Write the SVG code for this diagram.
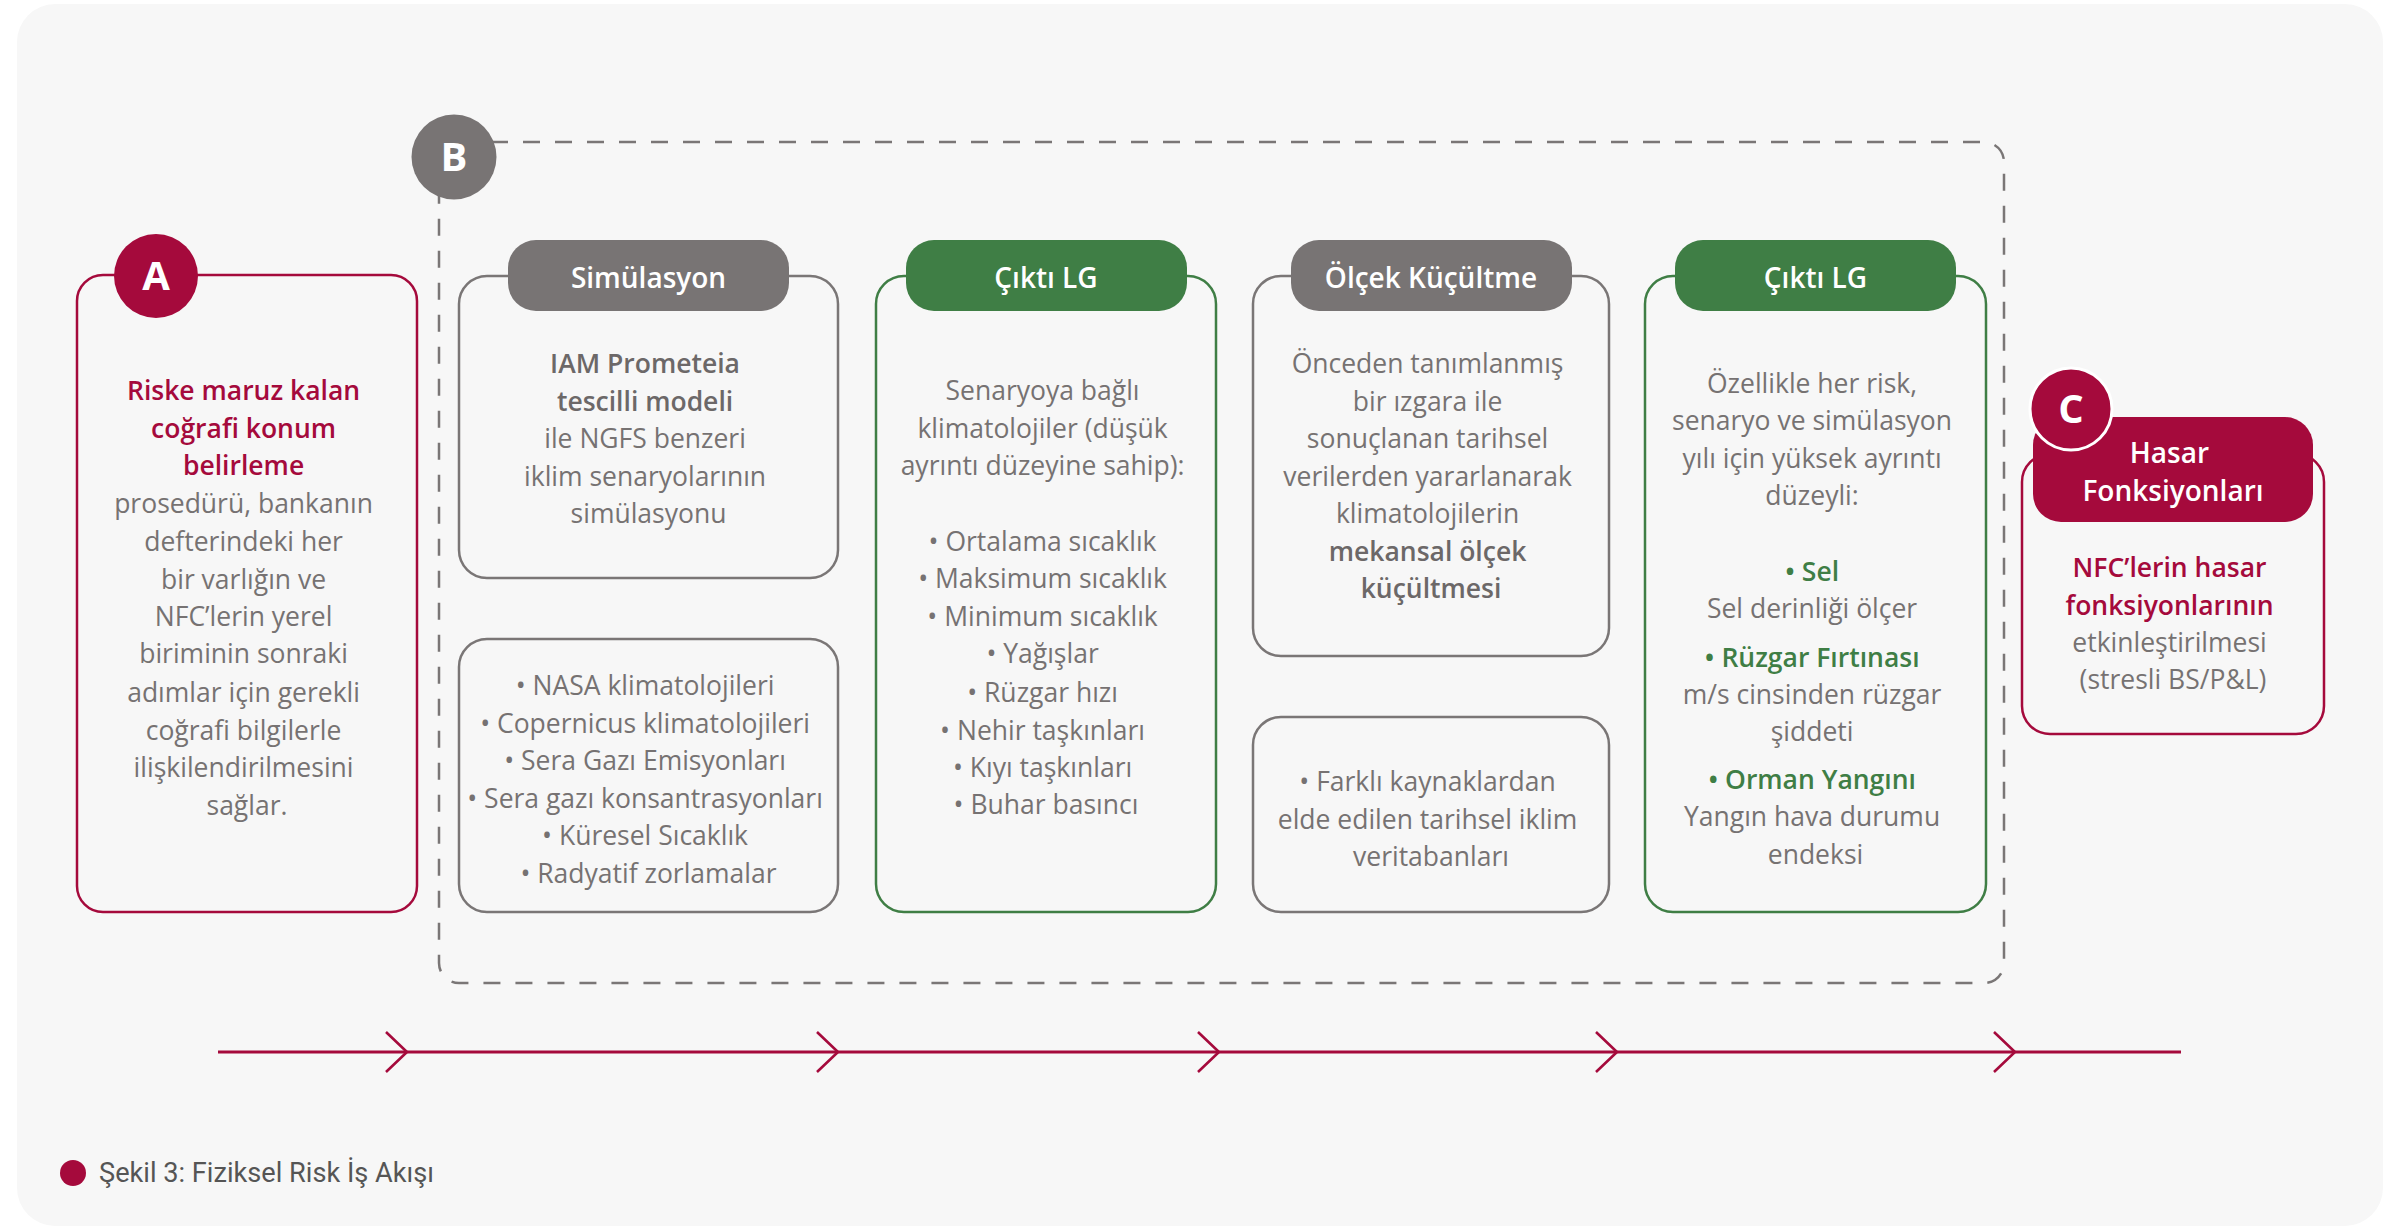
<svg xmlns="http://www.w3.org/2000/svg" width="2399" height="1228" viewBox="0 0 2399 1228">
<defs>
<style>
text{font-family:"Open Sans","Noto Sans",sans-serif;text-anchor:middle}
.body{font-size:26.5px;fill:#767272}
.b{font-weight:600;fill:#6c6868}
.red{font-weight:600;fill:#a50a3c}
.grn{font-weight:600;fill:#3f7e45}
.hdr{font-size:28px;font-weight:600;fill:#ffffff}
.letter{font-size:40px;font-weight:700;fill:#ffffff}
.gbox{fill:#f7f7f7;stroke:#7a7676;stroke-width:2.5}
.gnbox{fill:#f7f7f7;stroke:#3f7e45;stroke-width:2.5}
.rbox{fill:#f7f7f7;stroke:#a50a3c;stroke-width:2.5}
.gpill{fill:#787474}
.gnpill{fill:#3f7e45}
.rpill{fill:#a50a3c}
.flow{stroke:#a50a3c;stroke-width:3;fill:none}
</style>
<marker id="chev" markerUnits="userSpaceOnUse" markerWidth="26" markerHeight="46" refX="22" refY="22" orient="auto" viewBox="0 0 26 46">
<path d="M1,2 L22,22 L1,42" fill="none" stroke="#a50a3c" stroke-width="2.6"/>
</marker>
</defs>
<rect x="0" y="0" width="2399" height="1228" fill="#ffffff"/>
<rect id="panel" x="17" y="4" width="2366" height="1222" rx="38" fill="#f7f7f7"/>

<g id="groupB">
<rect x="439" y="142" width="1565" height="841" rx="20" fill="none" stroke="#7a7676" stroke-width="2.5" stroke-dasharray="17 15"/>
<circle cx="454" cy="157" r="42.5" fill="#787474"/>
<text class="letter" x="454" y="171">B</text>
</g>

<g id="nodeA">
<rect class="rbox" x="77" y="275" width="340" height="637" rx="26"/>
<circle cx="156" cy="276" r="42" fill="#a50a3c"/>
<text class="letter" x="156" y="290">A</text>
<text class="body">
<tspan class="red" x="247" y="400">Riske maruz kalan</tspan>
<tspan class="red" x="247" y="438">coğrafi konum</tspan>
<tspan class="red" x="247" y="475">belirleme</tspan>
<tspan x="247" y="513">prosedürü, bankanın</tspan>
<tspan x="247" y="551">defterindeki her</tspan>
<tspan x="247" y="589">bir varlığın ve</tspan>
<tspan x="247" y="626">NFC’lerin yerel</tspan>
<tspan x="247" y="663">biriminin sonraki</tspan>
<tspan x="247" y="702">adımlar için gerekli</tspan>
<tspan x="247" y="740">coğrafi bilgilerle</tspan>
<tspan x="247" y="777">ilişkilendirilmesini</tspan>
<tspan x="247" y="815">sağlar.</tspan>
</text>
</g>

<g id="nodeSimulasyon">
<rect class="gbox" x="459" y="276" width="379" height="302" rx="28"/>
<rect class="gpill" x="508" y="240" width="281" height="71" rx="28"/>
<text class="hdr" x="648.5" y="288">Simülasyon</text>
<text class="body">
<tspan class="b" x="648.5" y="373">IAM Prometeia</tspan>
<tspan class="b" x="648.5" y="411">tescilli modeli</tspan>
<tspan x="648.5" y="448">ile NGFS benzeri</tspan>
<tspan x="648.5" y="486">iklim senaryolarının</tspan>
<tspan x="648.5" y="523">simülasyonu</tspan>
</text>
</g>

<g id="nodeSimKaynak">
<rect class="gbox" x="459" y="639" width="379" height="273" rx="28"/>
<text class="body">
<tspan x="648.5" y="695">• NASA klimatolojileri</tspan>
<tspan x="648.5" y="733">• Copernicus klimatolojileri</tspan>
<tspan x="648.5" y="770">• Sera Gazı Emisyonları</tspan>
<tspan x="648.5" y="808">• Sera gazı konsantrasyonları</tspan>
<tspan x="648.5" y="845">• Küresel Sıcaklık</tspan>
<tspan x="648.5" y="883">• Radyatif zorlamalar</tspan>
</text>
</g>

<g id="nodeCikti1">
<rect class="gnbox" x="876" y="276" width="340" height="636" rx="28"/>
<rect class="gnpill" x="906" y="240" width="281" height="71" rx="28"/>
<text class="hdr" x="1046" y="288">Çıktı LG</text>
<text class="body">
<tspan x="1046" y="400">Senaryoya bağlı</tspan>
<tspan x="1046" y="438">klimatolojiler (düşük</tspan>
<tspan x="1046" y="475">ayrıntı düzeyine sahip):</tspan>
<tspan x="1046" y="551">• Ortalama sıcaklık</tspan>
<tspan x="1046" y="588">• Maksimum sıcaklık</tspan>
<tspan x="1046" y="626">• Minimum sıcaklık</tspan>
<tspan x="1046" y="663">• Yağışlar</tspan>
<tspan x="1046" y="702">• Rüzgar hızı</tspan>
<tspan x="1046" y="740">• Nehir taşkınları</tspan>
<tspan x="1046" y="777">• Kıyı taşkınları</tspan>
<tspan x="1046" y="814">• Buhar basıncı</tspan>
</text>
</g>

<g id="nodeOlcek">
<rect class="gbox" x="1253" y="276" width="356" height="380" rx="28"/>
<rect class="gpill" x="1291" y="240" width="281" height="71" rx="28"/>
<text class="hdr" x="1431" y="288">Ölçek Küçültme</text>
<text class="body">
<tspan x="1431" y="373">Önceden tanımlanmış</tspan>
<tspan x="1431" y="411">bir ızgara ile</tspan>
<tspan x="1431" y="448">sonuçlanan tarihsel</tspan>
<tspan x="1431" y="486">verilerden yararlanarak</tspan>
<tspan x="1431" y="523">klimatolojilerin</tspan>
<tspan class="b" x="1431" y="561">mekansal ölçek</tspan>
<tspan class="b" x="1431" y="598">küçültmesi</tspan>
</text>
</g>

<g id="nodeOlcekKaynak">
<rect class="gbox" x="1253" y="717" width="356" height="195" rx="28"/>
<text class="body">
<tspan x="1431" y="791">• Farklı kaynaklardan</tspan>
<tspan x="1431" y="829">elde edilen tarihsel iklim</tspan>
<tspan x="1431" y="866">veritabanları</tspan>
</text>
</g>

<g id="nodeCikti2">
<rect class="gnbox" x="1645" y="276" width="341" height="636" rx="28"/>
<rect class="gnpill" x="1675" y="240" width="281" height="71" rx="28"/>
<text class="hdr" x="1815.5" y="288">Çıktı LG</text>
<text class="body">
<tspan x="1815.5" y="393">Özellikle her risk,</tspan>
<tspan x="1815.5" y="430">senaryo ve simülasyon</tspan>
<tspan x="1815.5" y="468">yılı için yüksek ayrıntı</tspan>
<tspan x="1815.5" y="505">düzeyli:</tspan>
<tspan class="grn" x="1815.5" y="581">• Sel</tspan>
<tspan x="1815.5" y="618">Sel derinliği ölçer</tspan>
<tspan class="grn" x="1815.5" y="667">• Rüzgar Fırtınası</tspan>
<tspan x="1815.5" y="704">m/s cinsinden rüzgar</tspan>
<tspan x="1815.5" y="741">şiddeti</tspan>
<tspan class="grn" x="1815.5" y="789">• Orman Yangını</tspan>
<tspan x="1815.5" y="826">Yangın hava durumu</tspan>
<tspan x="1815.5" y="864">endeksi</tspan>
</text>
</g>

<g id="nodeC">
<rect class="rbox" x="2022" y="454" width="302" height="280" rx="28"/>
<rect class="rpill" x="2033" y="417" width="280" height="105" rx="28"/>
<text class="hdr">
<tspan x="2173" y="463">Hasar</tspan>
<tspan x="2173" y="501">Fonksiyonları</tspan>
</text>
<circle cx="2071" cy="409" r="41" fill="#a50a3c" stroke="#ffffff" stroke-width="3"/>
<text class="letter" x="2071" y="423">C</text>
<text class="body">
<tspan class="red" x="2173" y="577">NFC’lerin hasar</tspan>
<tspan class="red" x="2173" y="615">fonksiyonlarının</tspan>
<tspan x="2173" y="652">etkinleştirilmesi</tspan>
<tspan x="2173" y="689">(stresli BS/P&amp;L)</tspan>
</text>
</g>

<g id="connectors">
<path class="flow" d="M218,1052 L407,1052" marker-end="url(#chev)"/>
<path class="flow" d="M407,1052 L838,1052" marker-end="url(#chev)"/>
<path class="flow" d="M838,1052 L1219,1052" marker-end="url(#chev)"/>
<path class="flow" d="M1219,1052 L1617,1052" marker-end="url(#chev)"/>
<path class="flow" d="M1617,1052 L2015,1052" marker-end="url(#chev)"/>
<path class="flow" d="M2015,1052 L2181,1052"/>
</g>

<g id="caption">
<circle cx="73" cy="1173" r="13" fill="#a50a3c"/>
<text x="99" y="1182" style="font-family:Roboto,'Liberation Sans',sans-serif;font-size:28px;fill:#555555;text-anchor:start" textLength="335" lengthAdjust="spacingAndGlyphs">Şekil 3: Fiziksel Risk İş Akışı</text>
</g>
</svg>
